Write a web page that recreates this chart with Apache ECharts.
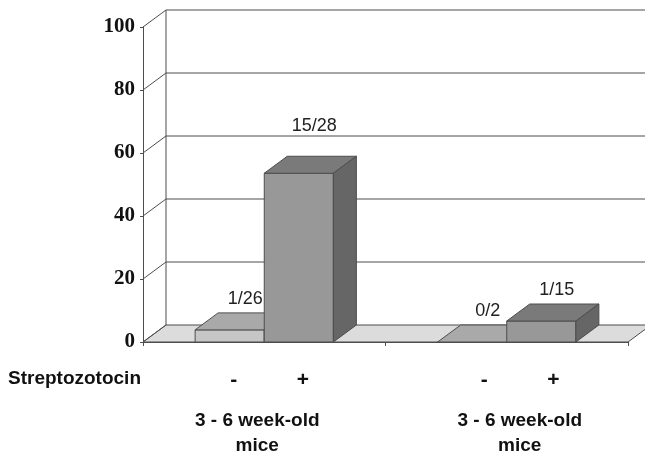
<!DOCTYPE html>
<html>
<head>
<meta charset="utf-8">
<script src="https://cdn.jsdelivr.net/npm/echarts@6/dist/echarts.min.js"></script>
<style>
  html, body { margin: 0; padding: 0; background: #fff; }
  #chart { width: 645px; height: 456px; }
</style>
</head>
<body>
<div id="chart"></div>
<script>
// Incidence per group, shown as "positive / total" above each bar
const groups = ['3 - 6 week-old\nmice', '3 - 6 week-old\nmice'];
const treatments = ['-', '+'];              // streptozotocin
const positives = [[1, 15], [0, 1]];        // [group][treatment]
const totals = [[26, 28], [2, 15]];
const yTicks = [0, 20, 40, 60, 80, 100];

// Pseudo-3D depth offset of the box and the bars
const DX = 23, DY = -17;
const EDGE = '#4d4d4d';
const FONT = '"Liberation Sans", Arial, sans-serif';

const faceColors = [
  { front: '#c6c6c6', top: '#a9a9a9', side: '#969696' },
  { front: '#989898', top: '#7a7a7a', side: '#666666' }
];

function seriesData(t) {
  return groups.map((g, gi) => {
    const n = positives[gi][t], N = totals[gi][t];
    return [gi, 100 * n / N, n + '/' + N];
  });
}

// back wall, left wall diagonals and floor
function renderBox(params, api) {
  const cs = params.coordSys;
  const left = cs.x, right = cs.x + cs.width;
  const v = api.value(0);
  const y = api.coord([0, v])[1];
  const children = [];
  if (v === 0) {
    children.push({
      type: 'polygon',
      shape: { points: [[left, y], [right, y], [right + DX, y + DY], [left + DX, y + DY]] },
      style: { fill: '#dcdcdc', stroke: EDGE, lineWidth: 1 }
    });
    const yTop = api.coord([0, yTicks[yTicks.length - 1]])[1];
    children.push({
      type: 'line',
      shape: { x1: left + DX, y1: y + DY, x2: left + DX, y2: yTop + DY },
      style: { stroke: EDGE, lineWidth: 1 }
    });
  } else {
    children.push({
      type: 'line',
      shape: { x1: left + DX, y1: y + DY, x2: right + DX, y2: y + DY },
      style: { stroke: EDGE, lineWidth: 1 }
    });
  }
  children.push({
    type: 'line',
    shape: { x1: left, y1: y, x2: left + DX, y2: y + DY },
    style: { stroke: EDGE, lineWidth: 1 }
  });
  return { type: 'group', children };
}

function makeBarRenderer(t) {
  const col = faceColors[t];
  return function (params, api) {
    const gi = api.value(0);
    const val = api.value(1);
    const top = api.coord([gi, val]);
    const base = api.coord([gi, 0]);
    const band = api.size([1, 0])[0];
    const w = band * 0.285;
    const x0 = t === 0 ? top[0] - w : top[0];
    const x1 = x0 + w;
    const yt = top[1], yb = base[1];
    const st = { stroke: EDGE, lineWidth: 1 };
    const children = [
      {
        type: 'rect',
        shape: { x: x0, y: yt, width: w, height: yb - yt },
        style: Object.assign({ fill: col.front }, st)
      },
      {
        type: 'polygon',
        shape: { points: [[x0, yt], [x1, yt], [x1 + DX, yt + DY], [x0 + DX, yt + DY]] },
        style: Object.assign({ fill: col.top }, st)
      },
      {
        type: 'polygon',
        shape: { points: [[x1, yt], [x1, yb], [x1 + DX, yb + DY], [x1 + DX, yt + DY]] },
        style: Object.assign({ fill: col.side }, st)
      },
      {
        type: 'text',
        x: x0 + w / 2 + DX / 2 + 4,
        y: yt + DY - 14 - (val > 40 ? 16 : 0),
        style: {
          text: api.value(2), fill: '#222', font: '18px ' + FONT,
          align: 'center', verticalAlign: 'middle'
        }
      },
      {
        type: 'text',
        x: x0 + w / 2 + 4 + gi * 8,
        y: yb + 38,
        style: {
          text: treatments[t], fill: '#111', font: 'bold 21px ' + FONT,
          align: 'center', verticalAlign: 'middle'
        }
      }
    ];
    return { type: 'group', children };
  };
}

const chart = echarts.init(document.getElementById('chart'), null, { renderer: 'canvas' });

const labelStyle = { fontSize: 19, fontWeight: 'bold', fontFamily: FONT, color: '#111', lineHeight: 25 };

chart.setOption({
  animation: false,
  backgroundColor: '#ffffff',
  grid: { left: 143, right: 17, top: 27, bottom: 114 },
  xAxis: {
    type: 'category',
    data: groups,
    boundaryGap: true,
    axisLine: { show: true, lineStyle: { color: EDGE, width: 1 } },
    axisTick: { show: true, length: 4, lineStyle: { color: EDGE } },
    splitLine: { show: false },
    axisLabel: {
      margin: 66,
      interval: 0,
      formatter: (v, i) => v.split('\n').map(s => '{g' + i + '|' + s + '}').join('\n'),
      rich: {
        g0: Object.assign({ padding: [0, 14, 0, 0] }, labelStyle),
        g1: Object.assign({ padding: [0, 0, 0, 26] }, labelStyle)
      }
    }
  },
  yAxis: {
    type: 'value',
    min: 0, max: 100, interval: 20,
    axisLine: { show: true, lineStyle: { color: EDGE, width: 1 } },
    axisTick: { show: true, length: 3, lineStyle: { color: EDGE } },
    splitLine: { show: false },
    axisLabel: {
      margin: 8,
      fontFamily: '"Liberation Serif", "Times New Roman", serif',
      fontWeight: 'bold', fontSize: 21, color: '#111'
    }
  },
  graphic: [{
    type: 'text',
    x: 8, y: 379,
    style: {
      text: 'Streptozotocin', fill: '#111', font: 'bold 19px ' + FONT,
      verticalAlign: 'middle'
    }
  }],
  series: [
    {
      type: 'custom', name: 'box', z: 1, silent: true,
      data: yTicks.map(v => [v]),
      encode: { y: 0 },
      renderItem: renderBox
    },
    {
      type: 'custom', name: treatments[0], z: 2,
      data: seriesData(0),
      encode: { x: 0, y: 1 },
      renderItem: makeBarRenderer(0)
    },
    {
      type: 'custom', name: treatments[1], z: 3,
      data: seriesData(1),
      encode: { x: 0, y: 1 },
      renderItem: makeBarRenderer(1)
    }
  ]
});
</script>
</body>
</html>
